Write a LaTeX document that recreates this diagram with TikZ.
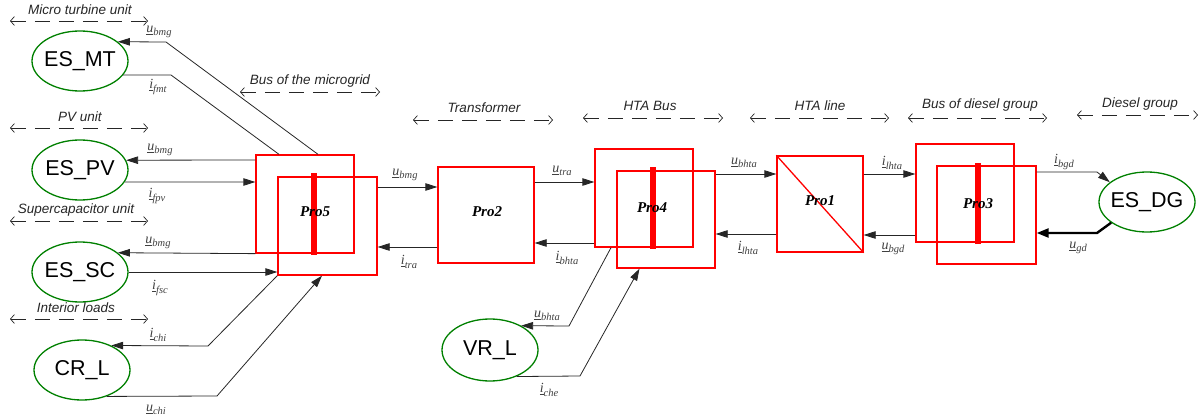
\documentclass[tikz,border=0pt]{standalone}
\usepackage{fontspec}
\setmainfont{Liberation Sans}
\newfontfamily\tnr{Liberation Serif}
\usetikzlibrary{arrows.meta,shapes.geometric}
\newcommand{\vlab}[2]{\underline{#1}\raisebox{-3.5pt}{\fontsize{10.5}{12}\selectfont #2}}
\begin{document}
\begin{tikzpicture}[x=1pt,y=-1pt,
  boxn/.style={draw=red,line width=1.3pt,inner sep=0pt},
  barn/.style={fill=red,draw=none,inner sep=0pt,minimum width=6pt},
  plab/.style={font=\tnr\bfseries\itshape\fontsize{15}{18}\selectfont,inner sep=0pt},
  elln/.style={ellipse,draw=green!50!black,line width=1.3pt,minimum width=96pt,minimum height=60pt,inner sep=0pt,font=\fontsize{21.5}{24}\selectfont},
  arr/.style={draw=black!85,line width=0.8pt,-{Triangle[length=12pt,width=7.5pt]}},
  plainln/.style={draw=black!85,line width=0.8pt},
  thickarr/.style={draw=black,line width=2.4pt,-{Triangle[length=12pt,width=9pt]}},
  spanarr/.style={draw=black!85,line width=0.7pt,dash pattern=on 15pt off 9pt,
    {Straight Barb[length=4pt,width=9pt]}-{Straight Barb[length=4pt,width=9pt]}},
  ttl/.style={font=\itshape\fontsize{13.5}{16}\selectfont,text=black!85,inner sep=0pt},
  vl/.style={font=\tnr\itshape\fontsize{14}{16}\selectfont,text=black!75,inner sep=0pt}
]
\useasboundingbox (0,0) rectangle (1203,420);

% ellipses
\node[elln] (es_mt) at (80,61) {\makebox[0pt]{ES\_MT}};
\node[elln] (es_pv) at (80,170) {\makebox[0pt]{ES\_PV}};
\node[elln] (es_sc) at (80,272) {\makebox[0pt]{ES\_SC}};
\node[elln] (cr_l) at (82,370) {\makebox[0pt]{CR\_L}};
\node[elln,minimum height=62pt] (vr_l) at (490,350) {\makebox[0pt]{VR\_L}};
\node[elln] (es_dg) at (1147,202) {\makebox[0pt]{ES\_DG}};

% boxes
\node[boxn,minimum width=98pt,minimum height=98pt] (p5a) at (305,204) {};
\node[boxn,minimum width=99pt,minimum height=98pt] (p5b) at (327.5,226) {};
\node[barn,minimum height=82pt] (p5bar) at (314,214) {};
\node[plab] (p5l) at (315,212) {Pro5};

\node[boxn,minimum width=96pt,minimum height=96pt] (p2) at (486,215) {};
\node[plab] (p2l) at (487,212) {Pro2};

\node[boxn,minimum width=98pt,minimum height=98pt] (p4a) at (644,198) {};
\node[boxn,minimum width=98pt,minimum height=97pt] (p4b) at (666,219.5) {};
\node[barn,minimum height=82pt] (p4bar) at (653,208) {};
\node[plab] (p4l) at (652,208) {Pro4};

\node[boxn,minimum width=86pt,minimum height=96pt] (p1) at (820,204) {};
\draw[red,line width=1.3pt] (p1.north west) -- (p1.south east);
\node[plab] (p1l) at (820,201) {Pro1};

\node[boxn,minimum width=98pt,minimum height=98pt] (p3a) at (965,193) {};
\node[boxn,minimum width=99pt,minimum height=98pt] (p3b) at (986.5,215) {};
\node[barn,minimum height=81pt] (p3bar) at (978,203.5) {};
\node[plab] (p3l) at (978,204) {Pro3};

% span arrows and titles
\draw[spanarr] (10,21) -- (148,21);   \node[ttl] (t1) at (80,10) {Micro turbine unit};
\draw[spanarr] (10,128) -- (148,128); \node[ttl] (t2) at (80,117) {PV unit};
\draw[spanarr] (240,92) -- (380,92);  \node[ttl] (t3) at (310,81) {Bus of the microgrid};
\draw[spanarr] (10,221) -- (148,221); \node[ttl] (t4) at (76,210) {Supercapacitor unit};
\draw[spanarr] (10,319) -- (148,319); \node[ttl] (t5) at (76,308) {Interior loads};
\draw[spanarr] (413,120) -- (553,120); \node[ttl] (t6) at (484,108) {Transformer};
\draw[spanarr] (583,118) -- (723,118); \node[ttl] (t7) at (650,106) {HTA Bus};
\draw[spanarr] (750,118) -- (889,118); \node[ttl] (t8) at (820,106) {HTA line};
\draw[spanarr] (908,118) -- (1047,118); \node[ttl] (t9) at (980,105) {Bus of diesel group};
\draw[spanarr] (1077,115) -- (1198,115); \node[ttl] (t10) at (1140,104) {Diesel group};

% connectors left
\draw[arr] ([xshift=13pt]p5a.north) -- (166,42) -- (es_mt.27);
\draw[plainln] (es_mt.-18) -- (171,75) -- ([xshift=-26pt]p5a.north);
\draw[arr] (p5a.west |- 0,160) -- (es_pv.12.5);
\draw[arr] (es_pv.-15.3) -- (p5a.west |- 0,182);
\draw[arr] (p5a.south west) -- (es_sc.27);
\draw[arr] (es_sc.east) -- (p5b.west |- es_sc.east);
\draw[arr] (p5b.south west) -- (208,346) -- (cr_l.40);
\draw[arr] (cr_l.-47) -- (217,396) -- ([xshift=-5.5pt]p5b.south);

% middle
\draw[arr] (p5b.east |- 0,187) -- (p2.west |- 0,187);
\draw[arr] (p2.west |- 0,247) -- (p5b.east |- 0,247);
\draw[arr] (p2.east |- 0,182) -- (p4a.west |- 0,182);
\draw[arr] (p4a.west |- 0,243) -- (p2.east |- 0,243);
\draw[arr] ([xshift=-33pt]p4a.south) -- (569,326) -- (vr_l.38);
\draw[arr] (vr_l.-45) -- (580,376) -- ([xshift=-26.5pt]p4b.south);
\draw[arr] (p4b.east |- 0,174) -- (p1.west |- 0,174);
\draw[arr] (p1.west |- 0,234) -- (p4b.east |- 0,234);
\draw[arr] (p1.east |- 0,174) -- (p3a.west |- 0,174);
\draw[arr] (p3a.west |- 0,235) -- (p1.east |- 0,235);
\draw[arr] (p3b.east |- 0,172) -- (1097,172) -- (es_dg.152);
\draw[thickarr] (es_dg.210) -- (1097,233) -- (p3b.east |- 0,233);

% variable labels
\node[vl] (l1) at (159,32) {\vlab{u}{bmg}};
\node[vl] (l2) at (158,87) {\vlab{i}{fmt}};
\node[vl] (l3) at (160,150) {\vlab{u}{bmg}};
\node[vl] (l4) at (157,196) {\vlab{i}{fpv}};
\node[vl] (l5) at (158,243) {\vlab{u}{bmg}};
\node[vl] (l6) at (160,288) {\vlab{i}{fsc}};
\node[vl] (l7) at (158,335) {\vlab{i}{chi}};
\node[vl] (l8) at (156,410) {\vlab{u}{chi}};
\node[vl] (l9) at (405,175) {\vlab{u}{bmg}};
\node[vl] (l10) at (409,262) {\vlab{i}{tra}};
\node[vl] (l11) at (562,171) {\vlab{u}{tra}};
\node[vl] (l12) at (567,258) {\vlab{i}{bhta}};
\node[vl] (l13) at (547,316) {\vlab{u}{bhta}};
\node[vl] (l14) at (549,390) {\vlab{i}{che}};
\node[vl] (l15) at (744,163) {\vlab{u}{bhta}};
\node[vl] (l16) at (748,248) {\vlab{i}{lhta}};
\node[vl] (l17) at (892,163) {\vlab{i}{lhta}};
\node[vl] (l18) at (893,249) {\vlab{u}{bgd}};
\node[vl] (l19) at (1064,162) {\vlab{i}{bgd}};
\node[vl] (l20) at (1078,248) {\vlab{u}{gd}};
\end{tikzpicture}
\end{document}
